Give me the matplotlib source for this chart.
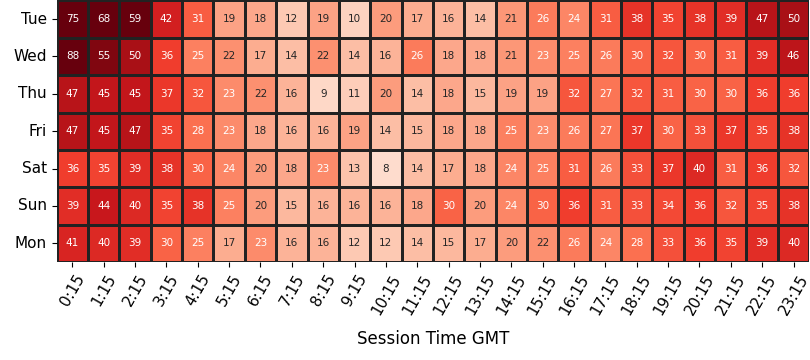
import numpy as np
import pandas as pd
import seaborn as sns
import matplotlib
matplotlib.use("Agg")
import matplotlib.pyplot as plt

# rows: weekdays, columns: session start times (GMT)
days = ["Tue", "Wed", "Thu", "Fri", "Sat", "Sun", "Mon"]
times = ["%d:15" % h for h in range(24)]

tue = [75, 68, 59, 42, 31, 19, 18, 12, 19, 10, 20, 17, 16, 14, 21, 26, 24, 31, 38, 35, 38, 39, 47, 50]
wed = [88, 55, 50, 36, 25, 22, 17, 14, 22, 14, 16, 26, 18, 18, 21, 23, 25, 26, 30, 32, 30, 31, 39, 46]
thu = [47, 45, 45, 37, 32, 23, 22, 16, 9, 11, 20, 14, 18, 15, 19, 19, 32, 27, 32, 31, 30, 30, 36, 36]
fri = [47, 45, 47, 35, 28, 23, 18, 16, 16, 19, 14, 15, 18, 18, 25, 23, 26, 27, 37, 30, 33, 37, 35, 38]
sat = [36, 35, 39, 38, 30, 24, 20, 18, 23, 13, 8, 14, 17, 18, 24, 25, 31, 26, 33, 37, 40, 31, 36, 32]
sun = [39, 44, 40, 35, 38, 25, 20, 15, 16, 16, 16, 18, 30, 20, 24, 30, 36, 31, 33, 34, 36, 32, 35, 38]
mon = [41, 40, 39, 30, 25, 17, 23, 16, 16, 12, 12, 14, 15, 17, 20, 22, 26, 24, 28, 33, 36, 35, 39, 40]

df = pd.DataFrame([tue, wed, thu, fri, sat, sun, mon], index=days, columns=times)

fig, ax = plt.subplots(figsize=(8.1, 3.6), dpi=100)
fig.subplots_adjust(left=0.070, right=0.999, top=0.999, bottom=0.272)

sns.heatmap(df, ax=ax, cmap="Reds", vmin=0, vmax=58, annot=True, fmt="d",
            annot_kws={"fontsize": 7.5}, linewidths=1, linecolor="#222222",
            cbar=False)

ax.set_xlabel("Session Time GMT", fontsize=12, labelpad=9)
ax.set_ylabel("")
plt.setp(ax.get_xticklabels(), rotation=60, fontsize=11)
plt.setp(ax.get_yticklabels(), rotation=0, fontsize=11)

fig.savefig("out.png", dpi=100)
